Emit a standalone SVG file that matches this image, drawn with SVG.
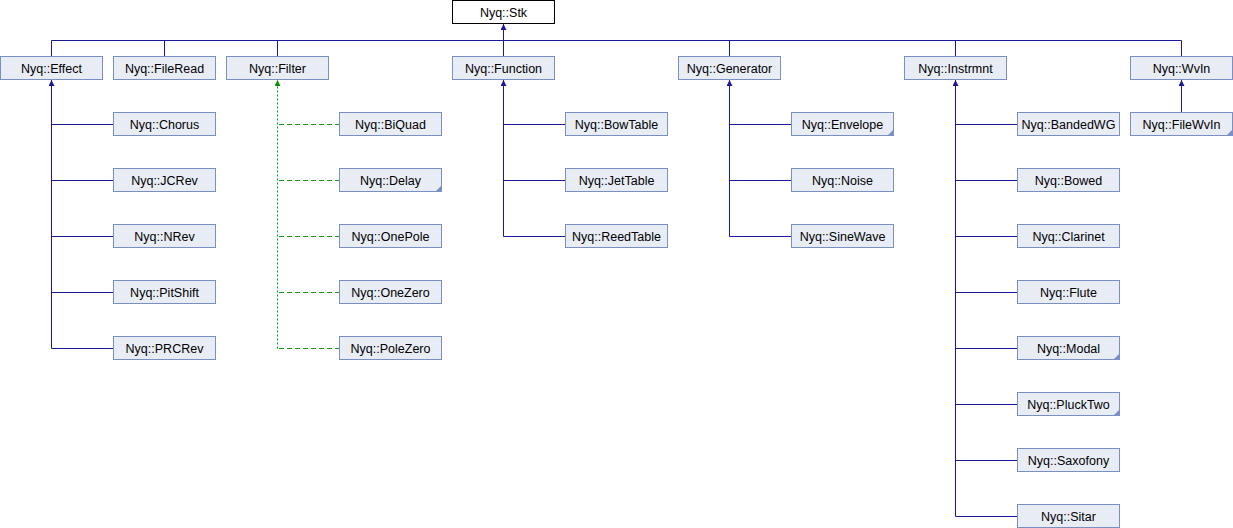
<svg xmlns="http://www.w3.org/2000/svg" width="1233" height="528" viewBox="0 0 1233 528">
<style>
  .node rect { fill: #e8ecf5; stroke: #7b8fc7; stroke-width: 1; }
  .root rect { fill: #ffffff; stroke: #000000; stroke-width: 1; }
  text { font-family: "Liberation Sans", Arial, sans-serif; font-size: 12.5px; fill: #000000; text-anchor: middle; }
  .corner { fill: #7b8fc7; stroke: none; }
  .pub { fill: none; stroke: #1a1a96; stroke-width: 1; }
  .prot { fill: none; stroke: #14a014; stroke-width: 1; stroke-dasharray: 5,3; }
  .protv { fill: none; stroke: #0f8f0f; stroke-width: 1; stroke-dasharray: 2,2; }
</style>
<defs>
  <marker id="arrB" viewBox="0 0 10 10" refX="10" refY="5" markerUnits="userSpaceOnUse" markerWidth="6" markerHeight="6" orient="auto">
    <path d="M0,0 L10,5 L0,10 z" fill="#1a1a96"/>
  </marker>
  <marker id="arrG" viewBox="0 0 10 10" refX="10" refY="5" markerUnits="userSpaceOnUse" markerWidth="6" markerHeight="6" orient="auto">
    <path d="M0,0 L10,5 L0,10 z" fill="#0f8f0f"/>
  </marker>
</defs>

<g id="connectors">
  <path class="pub" d="M51.5,40.5 H1181.5"/>
  <path class="pub" d="M503.5,40.5 V24" marker-end="url(#arrB)"/>
  <path class="pub" d="M51.5,56.5 V40.5"/>
  <path class="pub" d="M164.5,56.5 V40.5"/>
  <path class="pub" d="M277.5,56.5 V40.5"/>
  <path class="pub" d="M503.5,56.5 V40.5"/>
  <path class="pub" d="M729.5,56.5 V40.5"/>
  <path class="pub" d="M955.5,56.5 V40.5"/>
  <path class="pub" d="M1181.5,56.5 V40.5"/>
  <path class="pub" d="M51.5,348.5 V80" marker-end="url(#arrB)"/>
  <path class="pub" d="M51.5,124.5 H113.5 M51.5,180.5 H113.5 M51.5,236.5 H113.5 M51.5,292.5 H113.5 M51.5,348.5 H113.5"/>
  <path class="protv" d="M277.5,348.5 V80" marker-end="url(#arrG)"/>
  <path class="prot" d="M279,124.5 H339.5 M279,180.5 H339.5 M279,236.5 H339.5 M279,292.5 H339.5 M279,348.5 H339.5"/>
  <path class="pub" d="M503.5,236.5 V80" marker-end="url(#arrB)"/>
  <path class="pub" d="M503.5,124.5 H565.5 M503.5,180.5 H565.5 M503.5,236.5 H565.5"/>
  <path class="pub" d="M729.5,236.5 V80" marker-end="url(#arrB)"/>
  <path class="pub" d="M729.5,124.5 H791.5 M729.5,180.5 H791.5 M729.5,236.5 H791.5"/>
  <path class="pub" d="M955.5,516.5 V80" marker-end="url(#arrB)"/>
  <path class="pub" d="M955.5,124.5 H1017.5 M955.5,180.5 H1017.5 M955.5,236.5 H1017.5 M955.5,292.5 H1017.5 M955.5,348.5 H1017.5 M955.5,404.5 H1017.5 M955.5,460.5 H1017.5 M955.5,516.5 H1017.5"/>
  <path class="pub" d="M1181.5,112.5 V80" marker-end="url(#arrB)"/>
</g>

<g id="n-stk" class="root"><rect x="452.5" y="0.5" width="102" height="23"/><text x="503.5" y="16.5">Nyq::Stk</text></g>

<g id="n-effect" class="node"><rect x="0.5" y="56.5" width="102" height="23"/><text x="51.5" y="72.5">Nyq::Effect</text></g>
<g id="n-fileread" class="node"><rect x="113.5" y="56.5" width="102" height="23"/><text x="164.5" y="72.5">Nyq::FileRead</text></g>
<g id="n-filter" class="node"><rect x="226.5" y="56.5" width="102" height="23"/><text x="277.5" y="72.5">Nyq::Filter</text></g>
<g id="n-function" class="node"><rect x="452.5" y="56.5" width="102" height="23"/><text x="503.5" y="72.5">Nyq::Function</text></g>
<g id="n-generator" class="node"><rect x="678.5" y="56.5" width="102" height="23"/><text x="729.5" y="72.5">Nyq::Generator</text></g>
<g id="n-instrmnt" class="node"><rect x="904.5" y="56.5" width="102" height="23"/><text x="955.5" y="72.5">Nyq::Instrmnt</text></g>
<g id="n-wvin" class="node"><rect x="1130.5" y="56.5" width="102" height="23"/><text x="1181.5" y="72.5">Nyq::WvIn</text></g>

<g id="n-chorus" class="node"><rect x="113.5" y="112.5" width="102" height="23"/><text x="164.5" y="128.5">Nyq::Chorus</text></g>
<g id="n-jcrev" class="node"><rect x="113.5" y="168.5" width="102" height="23"/><text x="164.5" y="184.5">Nyq::JCRev</text></g>
<g id="n-nrev" class="node"><rect x="113.5" y="224.5" width="102" height="23"/><text x="164.5" y="240.5">Nyq::NRev</text></g>
<g id="n-pitshift" class="node"><rect x="113.5" y="280.5" width="102" height="23"/><text x="164.5" y="296.5">Nyq::PitShift</text></g>
<g id="n-prcrev" class="node"><rect x="113.5" y="336.5" width="102" height="23"/><text x="164.5" y="352.5">Nyq::PRCRev</text></g>

<g id="n-biquad" class="node"><rect x="339.5" y="112.5" width="102" height="23"/><text x="390.5" y="128.5">Nyq::BiQuad</text></g>
<g id="n-delay" class="node"><rect x="339.5" y="168.5" width="102" height="23"/><polygon class="corner" points="441.5,185.5 441.5,191.5 435.5,191.5"/><text x="390.5" y="184.5">Nyq::Delay</text></g>
<g id="n-onepole" class="node"><rect x="339.5" y="224.5" width="102" height="23"/><text x="390.5" y="240.5">Nyq::OnePole</text></g>
<g id="n-onezero" class="node"><rect x="339.5" y="280.5" width="102" height="23"/><text x="390.5" y="296.5">Nyq::OneZero</text></g>
<g id="n-polezero" class="node"><rect x="339.5" y="336.5" width="102" height="23"/><text x="390.5" y="352.5">Nyq::PoleZero</text></g>

<g id="n-bowtable" class="node"><rect x="565.5" y="112.5" width="102" height="23"/><text x="616.5" y="128.5">Nyq::BowTable</text></g>
<g id="n-jettable" class="node"><rect x="565.5" y="168.5" width="102" height="23"/><text x="616.5" y="184.5">Nyq::JetTable</text></g>
<g id="n-reedtable" class="node"><rect x="565.5" y="224.5" width="102" height="23"/><text x="616.5" y="240.5">Nyq::ReedTable</text></g>

<g id="n-envelope" class="node"><rect x="791.5" y="112.5" width="102" height="23"/><polygon class="corner" points="893.5,129.5 893.5,135.5 887.5,135.5"/><text x="842.5" y="128.5">Nyq::Envelope</text></g>
<g id="n-noise" class="node"><rect x="791.5" y="168.5" width="102" height="23"/><text x="842.5" y="184.5">Nyq::Noise</text></g>
<g id="n-sinewave" class="node"><rect x="791.5" y="224.5" width="102" height="23"/><text x="842.5" y="240.5">Nyq::SineWave</text></g>

<g id="n-bandedwg" class="node"><rect x="1017.5" y="112.5" width="102" height="23"/><text x="1068.5" y="128.5">Nyq::BandedWG</text></g>
<g id="n-bowed" class="node"><rect x="1017.5" y="168.5" width="102" height="23"/><text x="1068.5" y="184.5">Nyq::Bowed</text></g>
<g id="n-clarinet" class="node"><rect x="1017.5" y="224.5" width="102" height="23"/><text x="1068.5" y="240.5">Nyq::Clarinet</text></g>
<g id="n-flute" class="node"><rect x="1017.5" y="280.5" width="102" height="23"/><text x="1068.5" y="296.5">Nyq::Flute</text></g>
<g id="n-modal" class="node"><rect x="1017.5" y="336.5" width="102" height="23"/><polygon class="corner" points="1119.5,353.5 1119.5,359.5 1113.5,359.5"/><text x="1068.5" y="352.5">Nyq::Modal</text></g>
<g id="n-plucktwo" class="node"><rect x="1017.5" y="392.5" width="102" height="23"/><polygon class="corner" points="1119.5,409.5 1119.5,415.5 1113.5,415.5"/><text x="1068.5" y="408.5">Nyq::PluckTwo</text></g>
<g id="n-saxofony" class="node"><rect x="1017.5" y="448.5" width="102" height="23"/><text x="1068.5" y="464.5">Nyq::Saxofony</text></g>
<g id="n-sitar" class="node"><rect x="1017.5" y="504.5" width="102" height="23"/><text x="1068.5" y="520.5">Nyq::Sitar</text></g>

<g id="n-filewvin" class="node"><rect x="1130.5" y="112.5" width="102" height="23"/><polygon class="corner" points="1232.5,129.5 1232.5,135.5 1226.5,135.5"/><text x="1181.5" y="128.5">Nyq::FileWvIn</text></g>
</svg>
